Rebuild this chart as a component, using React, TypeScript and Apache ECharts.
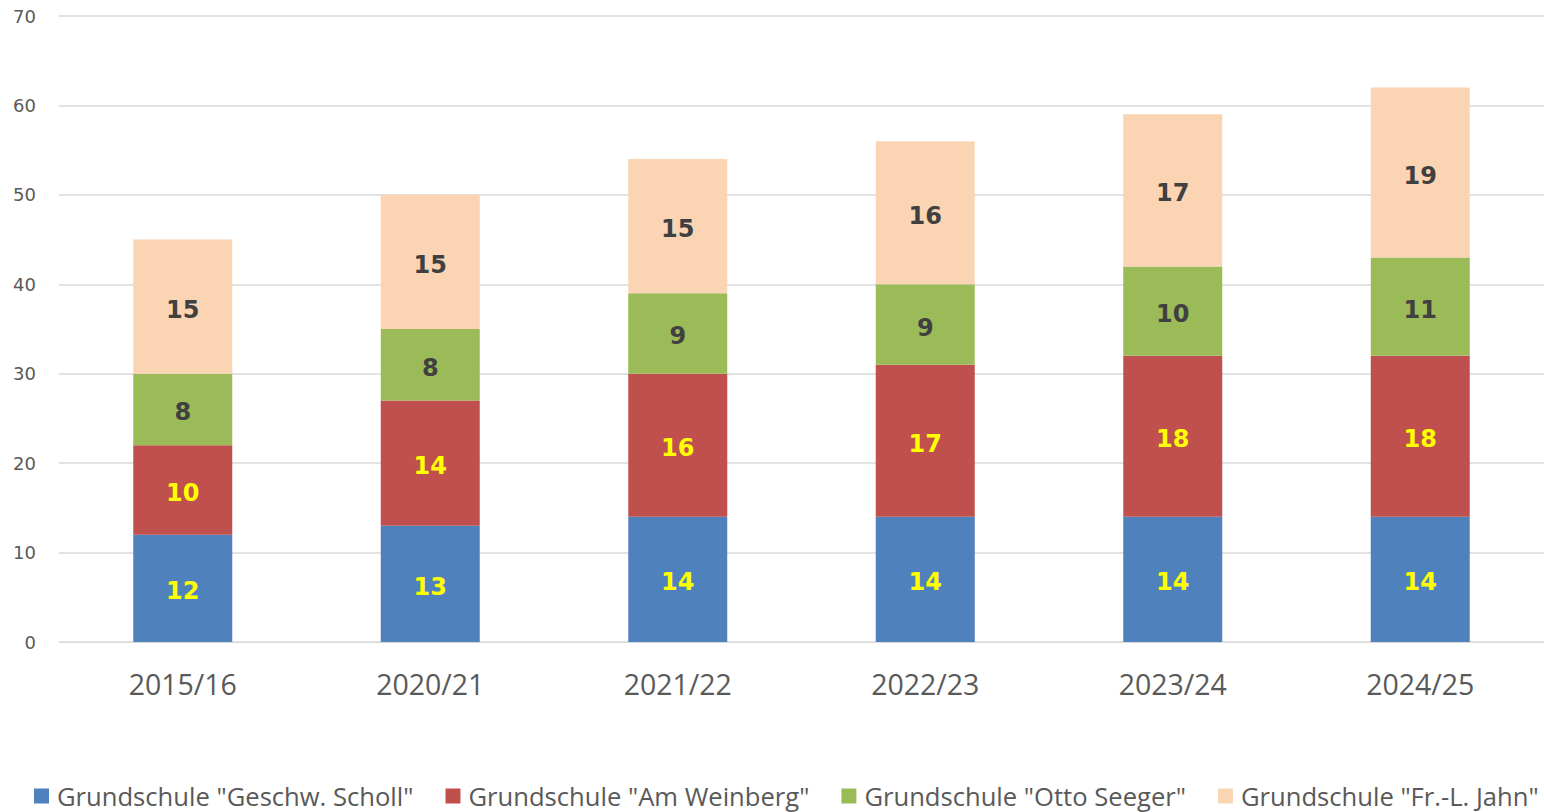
import React, { useEffect, useRef } from "react";
import * as echarts from "echarts";

const categories = ["2015/16", "2020/21", "2021/22", "2022/23", "2023/24", "2024/25"];
const seriesNames = [
  'Grundschule "Geschw. Scholl"',
  'Grundschule "Am Weinberg"',
  'Grundschule "Otto Seeger"',
  'Grundschule "Fr.-L. Jahn"',
];
const scholl = [12, 13, 14, 14, 14, 14];
const weinberg = [10, 14, 16, 17, 18, 18];
const seeger = [8, 8, 9, 9, 10, 11];
const jahn = [15, 15, 15, 16, 17, 19];
const colors = ["#4F81BD", "#C0504D", "#9BBB59", "#FBD4B4"];
const labelColors = ["#FFFF00", "#FFFF00", "#404040", "#404040"];

export default function App() {
  const ref = useRef<HTMLDivElement>(null);
  useEffect(() => {
    document.body.style.margin = "0";
    const chart = echarts.init(ref.current!, undefined, { renderer: "svg" });
    const data = [scholl, weinberg, seeger, jahn];
    chart.setOption({
      animation: false,
      grid: { left: 59, right: 0, top: 16, bottom: 170 },
      legend: {
        bottom: 3,
        left: 34,
        width: 1510,
        padding: 0,
        itemWidth: 15,
        itemHeight: 15,
        itemGap: 32,
        icon: "rect",
        textStyle: { fontFamily: "Open Sans", fontSize: 25.6, color: "#595959", padding: [0, 0, 0, 3] },
        data: seriesNames,
      },
      xAxis: {
        type: "category",
        data: categories,
        axisTick: { show: false },
        axisLine: { lineStyle: { color: "#D9D9D9", width: 1 } },
        axisLabel: { fontFamily: "Open Sans", fontSize: 28.5, color: "#595959", margin: 27 },
      },
      yAxis: {
        type: "value",
        min: 0,
        max: 70,
        interval: 10,
        axisLabel: { fontFamily: "DejaVu Sans", fontSize: 18, color: "#595959", margin: 23 },
        splitLine: { lineStyle: { color: "#D9D9D9", width: 1.5 } },
      },
      series: data.map((d, i) => ({
        name: seriesNames[i],
        type: "bar",
        stack: "total",
        barWidth: "40%",
        data: d,
        itemStyle: { color: colors[i] },
        label: {
          show: true,
          position: "inside",
          offset: [0, 3],
          fontFamily: "DejaVu Sans",
          fontWeight: "bold",
          fontSize: 24,
          color: labelColors[i],
        },
      })),
    });
    return () => chart.dispose();
  }, []);
  return <div ref={ref} style={{ width: 1544, height: 812 }} />;
}
